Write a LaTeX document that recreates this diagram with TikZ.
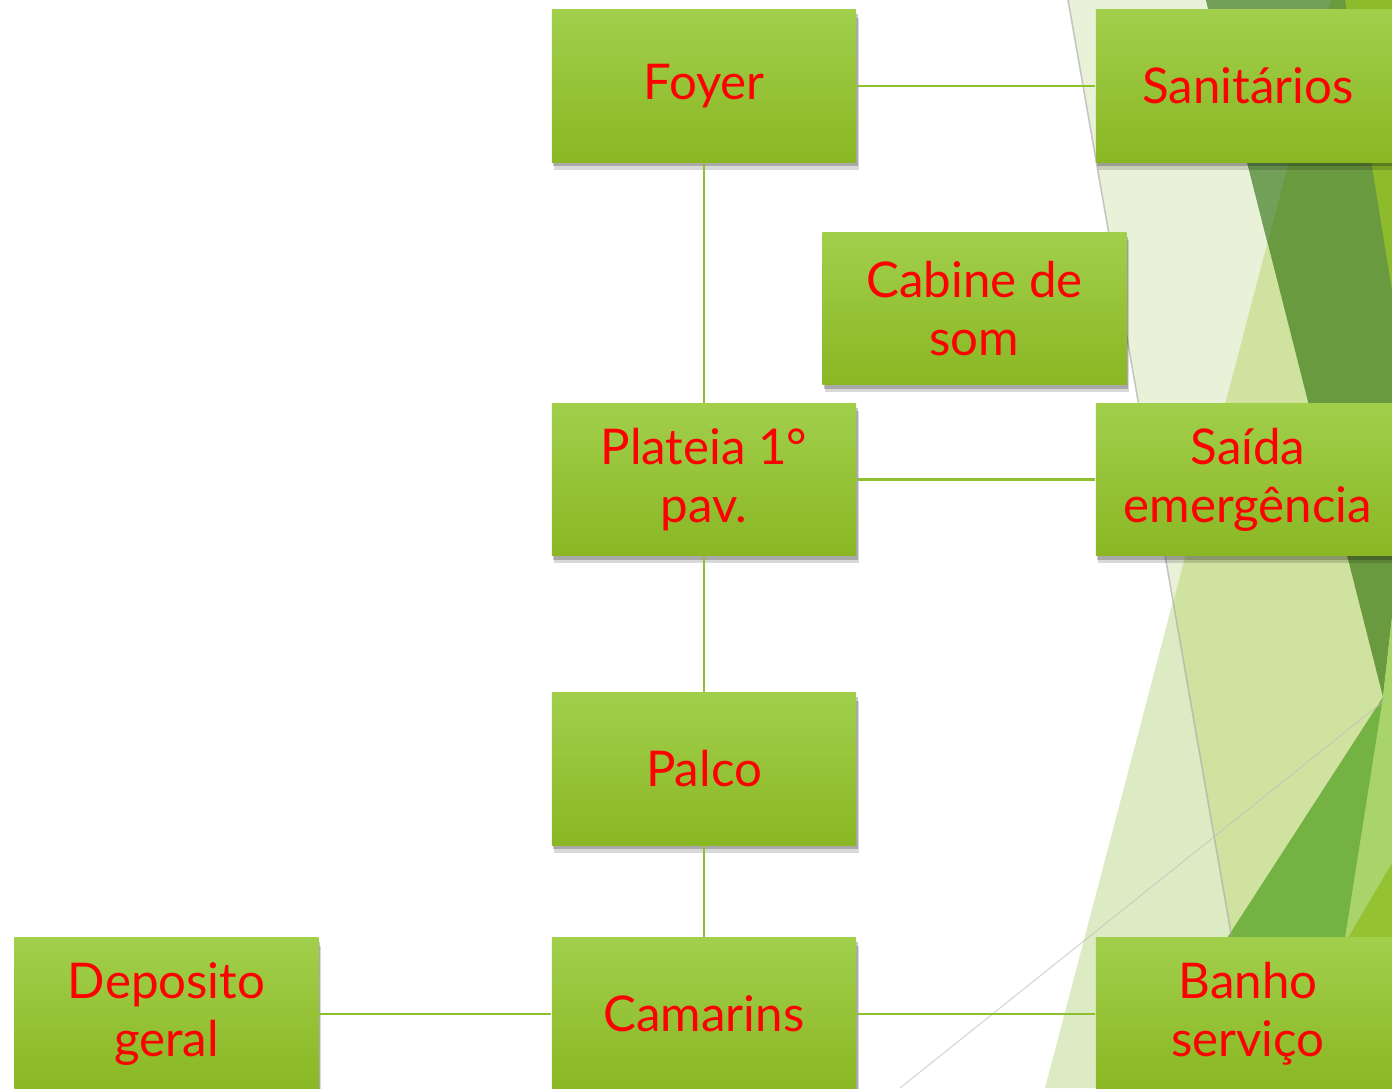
\documentclass[tikz,border=0pt]{standalone}
\usepackage{fontspec}
\setmainfont{Lato}
\usetikzlibrary{shadows}

\definecolor{boxtop}{HTML}{A1CF4C}
\definecolor{boxbot}{HTML}{8AB723}
\definecolor{linha}{HTML}{8DBF2E}
\definecolor{palido}{HTML}{E9F1D9}
\definecolor{claro}{HTML}{DDEBC4}
\definecolor{medio}{HTML}{D0E2A0}
\definecolor{escuro}{HTML}{6A9A40}
\definecolor{escurocl}{HTML}{72A058}
\definecolor{vivo}{HTML}{8DBB2B}
\definecolor{limao}{HTML}{A9D46A}
\definecolor{folha}{HTML}{74B243}
\definecolor{brilho}{HTML}{95C232}

\begin{document}
\begin{tikzpicture}[x=0.01cm,y=-0.01cm,
    sala/.style={rectangle,minimum width=3.04cm,minimum height=1.52cm,inner sep=0pt,
      top color=boxtop,bottom color=boxbot,text=red,align=center,
      font=\fontsize{14}{16.5}\selectfont,
      drop shadow={shadow xshift=0.7pt,shadow yshift=-2.2pt,opacity=.15,fill=black},
      drop shadow={shadow xshift=0.4pt,shadow yshift=-1.2pt,opacity=.22,fill=black}},
    liga/.style={draw=linha,line width=0.7pt}] % fluxograma do teatro
  \useasboundingbox (0,0) rectangle (1392,1088);
  \clip (0,0) rectangle (1392,1088);

  % fundo (faixas do tema)
  \fill[palido] (1068,0) -- (1392,0) -- (1392,1088) -- (1258,1088) -- cycle;
  \fill[claro] (1331,0) -- (1392,0) -- (1392,1088) -- (1045,1088) -- cycle;
  \fill[medio] (1331,0) -- (1392,0) -- (1392,1088) -- (1258,1088) -- (1173.5,603) -- cycle;
  \fill[escuro] (1206,0) -- (1392,0) -- (1392,617) -- (1383,697) -- cycle;
  \fill[escurocl] (1206,0) -- (1331,0) -- (1267.5,243) -- cycle;
  \fill[vivo] (1345,0) -- (1392,0) -- (1392,290) -- cycle;
  \fill[limao] (1392,617) -- (1383,697) -- (1345,938) -- (1325,1088) -- (1392,1088) -- cycle;
  \fill[folha] (1383,697) -- (1227,938) -- (1128,1088) -- (1325,1088) -- (1345,938) -- cycle;
  \fill[brilho] (1392,863) -- (1348,938) -- (1330,1088) -- (1392,1088) -- cycle;
  \draw[color=black!35,opacity=.6,line width=.45pt] (1068,0) -- (1258,1088);
  \draw[color=black!25,opacity=.6,line width=.35pt] (900,1088) -- (1385,700);

  \node[sala] (foyer) at (704,86) {Foyer};
  \node[sala] (sanit) at (1248,86) {Sanitários};
  \node[sala] (cabine) at (974.5,308.5) {Cabine de\\som};
  \node[sala] (plateia) at (704,479.5) {Plateia 1°\\pav.};
  \node[sala] (saida) at (1248,479.5) {Saída\\emergência};
  \node[sala] (palco) at (704,769) {Palco};
  \node[sala] (camarins) at (704,1014) {Camarins};
  \node[sala] (deposito) at (166.5,1014) {Deposito\\geral};
  \node[sala] (banho) at (1248,1014) {Banho\\serviço};

  \draw[liga] (foyer) -- (sanit);
  \draw[liga] (foyer) -- (plateia);
  \draw[liga] (plateia) -- (saida);
  \draw[liga] (plateia) -- (palco);
  \draw[liga] (palco) -- (camarins);
  \draw[liga] (deposito) -- (camarins);
  \draw[liga] (camarins) -- (banho);
\end{tikzpicture}
\end{document}
